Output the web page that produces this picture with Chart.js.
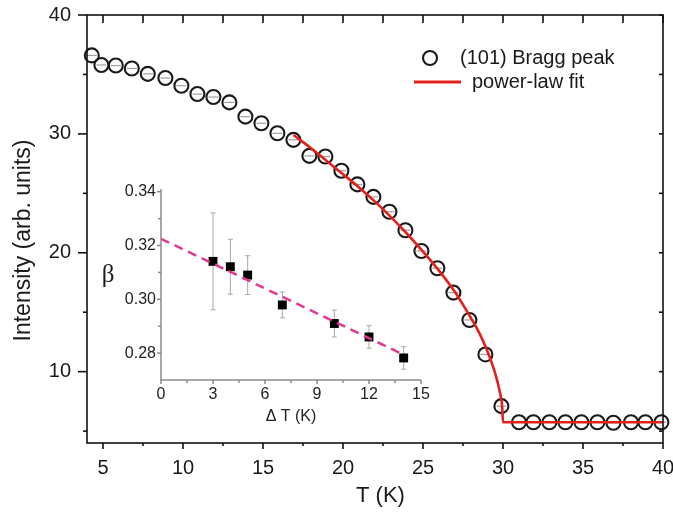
<!DOCTYPE html>
<html>
<head>
<meta charset="utf-8">
<script src="https://cdn.jsdelivr.net/npm/chart.js@4.4.0/dist/chart.umd.min.js"></script>
<style>
  html, body { margin: 0; padding: 0; background: #fff; }
  #wrap { position: relative; width: 673px; height: 512px; }
  #mainChart { position: absolute; left: 0; top: 0; }
  #insetChart { position: absolute; left: 95px; top: 175px; }
</style>
</head>
<body>
<div id="wrap">
  <canvas id="mainChart" width="673" height="512" style="width:673px;height:512px"></canvas>
  <canvas id="insetChart" width="340" height="255" style="width:340px;height:255px"></canvas>
</div>
<script>
  // main panel: (101) Bragg peak intensity vs temperature
  const temps = [4.3, 4.9, 5.8, 6.8, 7.8, 8.9, 9.9, 10.9, 11.9, 12.9, 13.9, 14.9, 15.9, 16.9, 17.9,
    18.9, 19.9, 20.9, 21.9, 22.9, 23.9, 24.9, 25.9, 26.9, 27.9, 28.9, 29.9,
    31.0, 31.9, 32.9, 33.9, 34.9, 35.9, 36.9, 38.0, 38.9, 39.9];
  const intensity = [36.6, 35.8, 35.75, 35.5, 35.05, 34.7, 34.05, 33.35, 33.1, 32.65, 31.45, 30.9, 30.05, 29.5, 28.15,
    28.1, 26.9, 25.75, 24.7, 23.45, 21.9, 20.15, 18.7, 16.65, 14.35, 11.45, 7.1,
    5.75, 5.75, 5.75, 5.75, 5.75, 5.75, 5.7, 5.75, 5.75, 5.75];

  // power-law fit curve
  const fitT = [16.9, 18, 19, 20, 21, 22, 23, 24, 25, 26, 27, 28, 28.5, 29, 29.5, 29.8, 29.95, 30, 40];
  const fitI = [29.9, 28.8, 27.7, 26.6, 25.5, 24.3, 23.0, 21.6, 20.1, 18.5, 16.7, 14.5, 13.3, 11.8, 9.9, 8.3, 7.0, 5.75, 5.75];

  const xTicks = [5, 10, 15, 20, 25, 30, 35, 40];
  const xMinor = [7.5, 12.5, 17.5, 22.5, 27.5, 32.5, 37.5];
  const yTicks = [10, 20, 30, 40];
  const yMinor = [5, 15, 25, 35];

  // inset: exponent beta vs delta T
  const dT = [3, 4, 5, 7, 10, 12, 14];
  const beta = [0.3141, 0.3121, 0.309, 0.2979, 0.291, 0.286, 0.2782];
  const betaErr = [0.018, 0.0102, 0.0072, 0.0048, 0.005, 0.0042, 0.0042];
  const lineDT = [0, 13.9];
  const lineBeta = [0.3225, 0.2797];

  const insetXTicks = [0, 3, 6, 9, 12, 15];
  const insetXMinor = [1.5, 4.5, 7.5, 10.5, 13.5];
  const insetYTicks = [0.28, 0.30, 0.32, 0.34];
  const insetYMinor = [0.29, 0.31, 0.33];

  const FONT = "'Liberation Sans', Arial, sans-serif";

  function line(ctx, x1, y1, x2, y2) {
    ctx.beginPath(); ctx.moveTo(x1, y1); ctx.lineTo(x2, y2); ctx.stroke();
  }

  const mainDecor = {
    id: 'mainDecor',
    beforeDatasetsDraw(chart) {
      // small grey bar inside each circle
      const ctx = chart.ctx;
      const meta = chart.getDatasetMeta(1);
      ctx.save();
      ctx.strokeStyle = '#a0a0a0';
      ctx.lineWidth = 1.2;
      meta.data.forEach(p => line(ctx, p.x - 5, p.y, p.x + 5, p.y));
      ctx.restore();
    },
    afterDraw(chart) {
      const {ctx, chartArea: a, scales: {x, y}} = chart;
      ctx.save();
      ctx.strokeStyle = '#111';
      ctx.lineWidth = 1.6;
      ctx.strokeRect(a.left, a.top, a.right - a.left, a.bottom - a.top);
      xTicks.concat(xMinor).forEach(v => {
        const px = x.getPixelForValue(v);
        const major = xTicks.includes(v);
        line(ctx, px, a.bottom, px, a.bottom + (major ? 6 : 3));
        line(ctx, px, a.top, px, a.top + 8);
      });
      yTicks.concat(yMinor).forEach(v => {
        const py = y.getPixelForValue(v);
        const major = yTicks.includes(v);
        line(ctx, a.left - (major ? 9 : 4), py, a.left, py);
        line(ctx, a.right - 4, py, a.right, py);
      });
      // legend
      ctx.lineWidth = 2.1;
      ctx.strokeStyle = '#1a1a1a';
      ctx.beginPath(); ctx.arc(430, 58, 7, 0, Math.PI * 2); ctx.stroke();
      ctx.strokeStyle = '#e3201b';
      ctx.lineWidth = 3;
      line(ctx, 414, 82, 461, 82);
      ctx.fillStyle = '#1a1a1a';
      ctx.font = '20px ' + FONT;
      ctx.textBaseline = 'middle';
      ctx.fillText('(101) Bragg peak', 460, 58);
      ctx.fillText('power-law fit', 472, 82);
      ctx.restore();
    }
  };

  new Chart(document.getElementById('mainChart'), {
    type: 'scatter',
    data: {
      datasets: [{
        label: 'power-law fit',
        type: 'line',
        data: fitT.map((t, i) => ({x: t, y: fitI[i]})),
        borderColor: '#e3201b',
        borderWidth: 2.6,
        pointRadius: 0,
        cubicInterpolationMode: 'monotone',
        fill: false,
        clip: false
      }, {
        label: '(101) Bragg peak',
        data: temps.map((t, i) => ({x: t, y: intensity[i]})),
        pointStyle: 'circle',
        pointRadius: 7,
        borderWidth: 2.1,
        borderColor: '#1a1a1a',
        backgroundColor: 'rgba(0,0,0,0)',
        clip: false
      }]
    },
    options: {
      responsive: false,
      animation: false,
      layout: {padding: {top: 15, right: 10, left: 0, bottom: 0}},
      plugins: {legend: {display: false}, tooltip: {enabled: false}},
      scales: {
        x: {
          type: 'linear', min: 4, max: 40,
          afterBuildTicks: s => { s.ticks = xTicks.map(v => ({value: v})); },
          afterFit: s => { s.height = 69; s.paddingLeft = 0; s.paddingRight = 0; },
          grid: {display: false, drawTicks: false},
          border: {display: false},
          ticks: {font: {family: FONT, size: 20}, color: '#1a1a1a', padding: 13, maxRotation: 0, autoSkip: false},
          title: {display: true, text: '\u2002T (K)', color: '#1a1a1a', font: {family: FONT, size: 22}, padding: {top: 0, bottom: 3}}
        },
        y: {
          type: 'linear', min: 4, max: 40,
          afterBuildTicks: s => { s.ticks = yTicks.map(v => ({value: v})); },
          afterFit: s => { s.width = 87; s.paddingTop = 0; s.paddingBottom = 0; },
          grid: {display: false, drawTicks: false},
          border: {display: false},
          ticks: {font: {family: FONT, size: 20}, color: '#1a1a1a', padding: 16},
          title: {display: true, text: 'Intensity (arb. units)\u2003', color: '#1a1a1a', font: {family: FONT, size: 23}, padding: {top: 10, bottom: 0}}
        }
      }
    },
    plugins: [mainDecor]
  });

  const insetDecor = {
    id: 'insetDecor',
    beforeDatasetsDraw(chart) {
      const {ctx, scales: {x, y}} = chart;
      ctx.save();
      ctx.strokeStyle = '#a8a8a8';
      ctx.lineWidth = 1;
      dT.forEach((t, i) => {
        const px = x.getPixelForValue(t);
        const top = y.getPixelForValue(beta[i] + betaErr[i]);
        const bot = y.getPixelForValue(beta[i] - betaErr[i]);
        line(ctx, px, top, px, bot);
        line(ctx, px - 2.5, top, px + 2.5, top);
        line(ctx, px - 2.5, bot, px + 2.5, bot);
      });
      ctx.restore();
    },
    afterDraw(chart) {
      const {ctx, chartArea: a, scales: {x, y}} = chart;
      ctx.save();
      ctx.strokeStyle = '#8a8a8a';
      ctx.lineWidth = 1.5;
      line(ctx, a.left, a.top, a.left, a.bottom);
      line(ctx, a.left, a.bottom, a.right, a.bottom);
      insetXTicks.concat(insetXMinor).forEach(v => {
        const px = x.getPixelForValue(v);
        line(ctx, px, a.bottom, px, a.bottom + (insetXTicks.includes(v) ? 4 : 3));
      });
      insetYTicks.concat(insetYMinor).forEach(v => {
        const py = y.getPixelForValue(v);
        line(ctx, a.left - (insetYTicks.includes(v) ? 4 : 3), py, a.left, py);
      });
      ctx.fillStyle = '#1a1a1a';
      ctx.font = "25px 'Liberation Serif', 'DejaVu Serif', serif";
      ctx.textAlign = 'center';
      ctx.textBaseline = 'middle';
      ctx.fillText('\u03B2', 13, 100);
      ctx.restore();
    }
  };

  new Chart(document.getElementById('insetChart'), {
    type: 'scatter',
    data: {
      datasets: [{
        label: 'fit',
        type: 'line',
        data: lineDT.map((t, i) => ({x: t, y: lineBeta[i]})),
        borderColor: '#e4388f',
        borderWidth: 2.5,
        borderDash: [9, 6],
        pointRadius: 0,
        fill: false
      }, {
        label: 'beta',
        data: dT.map((t, i) => ({x: t, y: beta[i]})),
        pointStyle: 'rect',
        pointRadius: 6.3,
        borderWidth: 0,
        backgroundColor: '#000',
        clip: false
      }]
    },
    options: {
      responsive: false,
      animation: false,
      layout: {padding: {top: 14, right: 14, left: 0, bottom: 0}},
      plugins: {legend: {display: false}, tooltip: {enabled: false}},
      scales: {
        x: {
          type: 'linear', min: 0, max: 15,
          afterBuildTicks: s => { s.ticks = insetXTicks.map(v => ({value: v})); },
          afterFit: s => { s.height = 50; s.paddingLeft = 0; s.paddingRight = 0; },
          grid: {display: false, drawTicks: false},
          border: {display: false},
          ticks: {font: {family: FONT, size: 16}, color: '#222', padding: 5, maxRotation: 0, autoSkip: false},
          title: {display: true, text: '\u0394 T (K)', color: '#222', font: {family: FONT, size: 16}, padding: {top: 0, bottom: 4}}
        },
        y: {
          type: 'linear', min: 0.27, max: 0.341,
          afterBuildTicks: s => { s.ticks = insetYTicks.map(v => ({value: v})); },
          afterFit: s => { s.width = 66; s.paddingTop = 0; s.paddingBottom = 0; },
          grid: {display: false, drawTicks: false},
          border: {display: false},
          ticks: {font: {family: FONT, size: 16}, color: '#222', padding: 5, callback: v => v.toFixed(2)}
        }
      }
    },
    plugins: [insetDecor]
  });
</script>
</body>
</html>
